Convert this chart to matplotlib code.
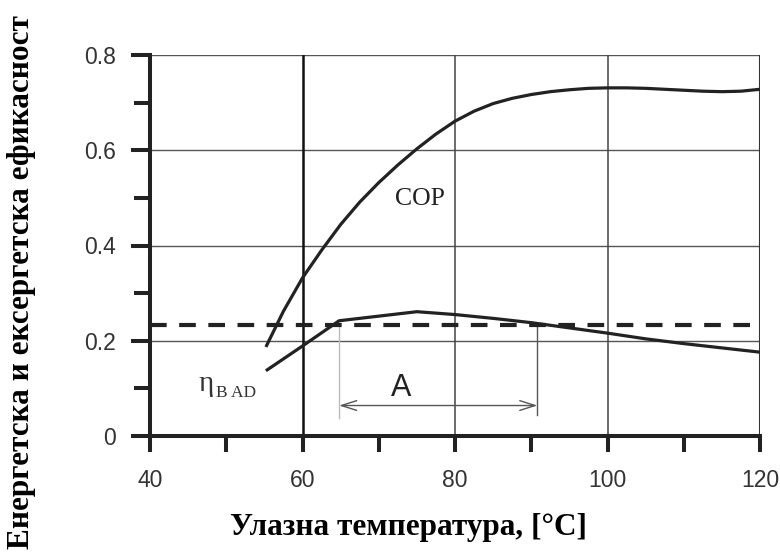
import matplotlib
matplotlib.use("Agg")
import matplotlib.pyplot as plt
from matplotlib.ticker import FixedLocator

# ---------------- data ----------------
cop_t = [55.2, 57.5, 60, 62.5, 65, 67.5, 70, 72.5, 75, 77.5, 80, 82.5, 85, 87.5,
         90, 92.5, 95, 97.5, 100, 102.5, 105, 107.5, 110, 112.5, 115, 117.5, 120]
cop_v = [0.187, 0.262, 0.332, 0.390, 0.444, 0.491, 0.532, 0.569, 0.603, 0.634,
         0.661, 0.682, 0.698, 0.709, 0.717, 0.723, 0.727, 0.730, 0.731, 0.731,
         0.730, 0.728, 0.726, 0.724, 0.723, 0.724, 0.728]

eta_t = [55.2, 60, 64.8, 75, 80, 85, 90, 95, 100, 105, 110, 115, 120]
eta_v = [0.137, 0.189, 0.242, 0.261, 0.255, 0.247, 0.238, 0.227, 0.216, 0.204,
         0.194, 0.185, 0.176]

ref_level = 0.234
range_a = [64.8, 90.8]

x_ticks = [40, 60, 80, 100, 120]
y_ticks = [0, 0.2, 0.4, 0.6, 0.8]
y_ticklabels = ["0", "0.2", "0.4", "0.6", "0.8"]

xlabel = "Улазна температура, [°C]"
ylabel = "Енергетска и ексергетска ефикасност"

# ---------------- figure ----------------
fig = plt.figure(figsize=(7.8, 5.54), dpi=100)
ax = fig.add_axes([150/780, 1-436/554, 610/780, 381/554])
ax.set_xlim(40, 120)
ax.set_ylim(0, 0.8)

# grid lines
for y in y_ticks[1:]:
    ax.axhline(y, color="#555555", lw=1.0, zorder=1)
ax.axvline(60, color="#111111", lw=1.8, zorder=1)
for x in [80, 100]:
    ax.axvline(x, color="#444444", lw=1.1, zorder=1)
ax.axvline(120, color="#333333", lw=1.5, zorder=1)

# reference dashed line
ax.axhline(ref_level, color="#222222", lw=3.0, dashes=(4, 3), zorder=3)

# curves
ax.plot(cop_t, cop_v, color="#222222", lw=2.3, zorder=4,
        solid_capstyle="butt", solid_joinstyle="round")
ax.plot(eta_t, eta_v, color="#222222", lw=2.3, zorder=4,
        solid_capstyle="butt", solid_joinstyle="round")

# annotation A
ax.plot([range_a[0], range_a[0]], [ref_level, 0.038], color="#bbbbbb", lw=1.0, zorder=2)
ax.plot([range_a[1], range_a[1]], [ref_level, 0.044], color="#555555", lw=1.0, zorder=2)
ax.annotate("", xy=(range_a[0], 0.064), xytext=(range_a[1], 0.064),
            arrowprops=dict(arrowstyle="<->,head_length=1.1,head_width=0.35",
                            color="#555555", lw=1.0, shrinkA=0, shrinkB=0))
ax.text(72.9, 0.100, "A", fontsize=22, family="Liberation Sans", color="#222222",
        ha="center", va="center")

ax.text(75.4, 0.497, "COP", fontsize=18.5, family="Liberation Serif", color="#222222",
        ha="center", va="center")
ax.text(46.4, 0.110, "η", fontsize=21, family="Liberation Serif", color="#333333",
        ha="left", va="center")
ax.text(48.6, 0.090, "B AD", fontsize=12.5, family="Liberation Serif", color="#333333",
        ha="left", va="center")

# spines
ax.spines["top"].set_visible(False)
ax.spines["right"].set_visible(False)
ax.spines["left"].set_linewidth(2.9)
ax.spines["bottom"].set_linewidth(2.9)
ax.spines["left"].set_color("#222222")
ax.spines["bottom"].set_color("#222222")

# ticks
ax.xaxis.set_major_locator(FixedLocator(x_ticks))
ax.xaxis.set_minor_locator(FixedLocator([50, 70, 90, 110]))
ax.set_xticklabels([str(t) for t in x_ticks])
ax.yaxis.set_major_locator(FixedLocator(y_ticks))
ax.yaxis.set_minor_locator(FixedLocator([0.1, 0.3, 0.5, 0.7]))
ax.set_yticklabels(y_ticklabels)

ax.tick_params(axis="x", which="both", direction="out", length=11.5, width=2.9,
               color="#222222", pad=12, labelsize=16.5, labelcolor="#333333")
ax.tick_params(axis="y", which="major", direction="out", length=13.7, width=2.9,
               color="#222222", pad=11, labelsize=16.5, labelcolor="#333333")
ax.tick_params(axis="y", which="minor", direction="out", length=11.5, width=2.9,
               color="#222222")
for lab in ax.get_xticklabels() + ax.get_yticklabels():
    lab.set_family("Liberation Sans")

fig.text(409/780, 1-528/554, xlabel, fontsize=22.5, family="Liberation Serif",
         weight="bold", ha="center", va="center")
fig.text(22/780, 1-282/554, ylabel, fontsize=22.5, family="Liberation Serif",
         weight="bold", ha="center", va="center", rotation=90)

fig.savefig("out.png", dpi=100)
